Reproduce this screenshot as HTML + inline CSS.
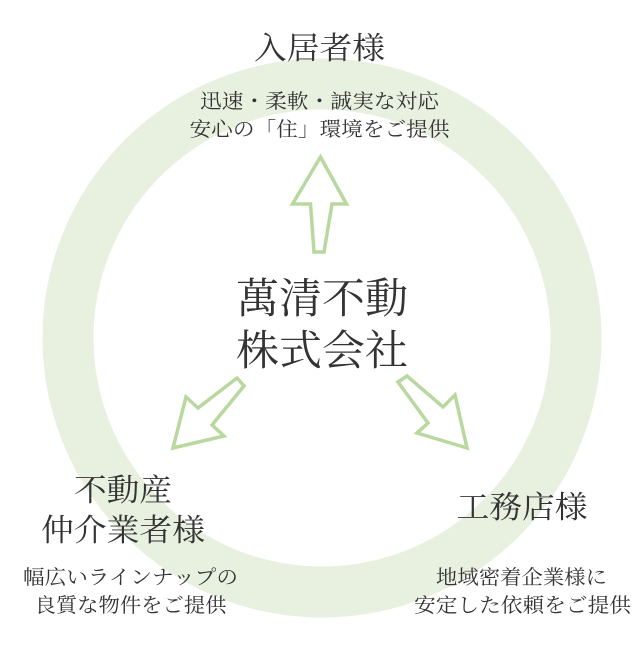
<!DOCTYPE html>
<html><head><meta charset="utf-8"><style>
html,body{margin:0;padding:0;background:#fff;}
svg text{font-family:"Liberation Serif","Noto Serif CJK SC",serif;fill:#333;text-anchor:middle;}
</style></head><body>
<svg width="640" height="640" viewBox="0 0 640 640" xmlns="http://www.w3.org/2000/svg">
<circle cx="322" cy="338" r="254" fill="none" stroke="#e8f0e0" stroke-width="51"/>
<g fill="#fff" stroke="#b9d89f" stroke-width="3.5" stroke-linejoin="miter">
<polygon points="320.5,157 346.5,204 332,204 324,252 314,252 310.5,204 292.5,204"/>
<polygon points="237,378 244,386 212,425 224,436 173,448 186,397 198,408"/>
<polygon points="398,382 407,376 443,407 455,395 467,448 417,433 428,423"/>
</g>
<text x="319.5" y="59" font-size="31" textLength="131" lengthAdjust="spacingAndGlyphs">入居者様</text>
<text x="319.5" y="108" font-size="20" textLength="239" lengthAdjust="spacingAndGlyphs">迅速・柔軟・誠実な対応</text>
<text x="319.5" y="136" font-size="20" textLength="260" lengthAdjust="spacingAndGlyphs">安心の「住」環境をご提供</text>
<text x="322" y="313" font-size="42" textLength="172" lengthAdjust="spacingAndGlyphs">萬清不動</text>
<text x="322" y="365" font-size="42" textLength="172" lengthAdjust="spacingAndGlyphs">株式会社</text>
<text x="123" y="501" font-size="31" textLength="98" lengthAdjust="spacingAndGlyphs">不動産</text>
<text x="123" y="541" font-size="31" textLength="164" lengthAdjust="spacingAndGlyphs">仲介業者様</text>
<text x="130.5" y="584" font-size="20" textLength="215" lengthAdjust="spacingAndGlyphs">幅広いラインナップの</text>
<text x="130.5" y="612" font-size="20" textLength="192" lengthAdjust="spacingAndGlyphs">良質な物件をご提供</text>
<text x="522" y="518" font-size="31" textLength="131" lengthAdjust="spacingAndGlyphs">工務店様</text>
<text x="521.5" y="584" font-size="20" textLength="171" lengthAdjust="spacingAndGlyphs">地域密着企業様に</text>
<text x="522.5" y="612" font-size="20" textLength="217" lengthAdjust="spacingAndGlyphs">安定した依頼をご提供</text>
</svg>
</body></html>
